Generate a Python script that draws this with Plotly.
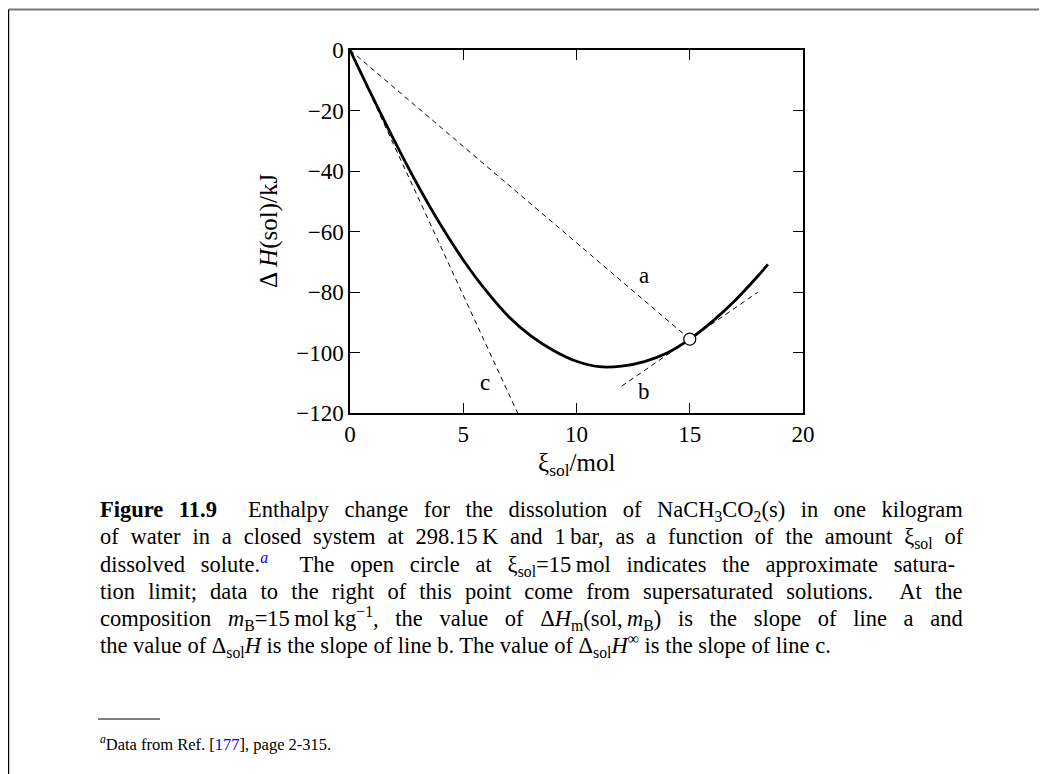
import plotly.graph_objects as go

# curve
xi_sol = [0, 1, 2, 3, 4, 5, 6, 7, 8, 9, 10, 11, 12, 13, 14, 15, 16, 17, 18, 18.45]
dH_sol = [0, -15.6, -30.6, -44.8, -57.8, -69.4, -79.5, -88.1, -94.6, -99.4, -102.9,
          -104.7, -104.5, -103.0, -100.2, -95.6, -89.7, -82.8, -74.8, -70.9]

# saturation point
sat_x = [15]
sat_y = [-95.6]

# tangent / secant lines
line_a_x = [0, 15]
line_a_y = [0, -95.6]
line_b_x = [12, 18]
line_b_y = [-111.1, -80.1]
line_c_x = [0, 7.4]
line_c_y = [0, -120]

# line labels
lab_text = ["a", "b", "c"]
lab_x = [13.0, 13.0, 5.95]
lab_y = [-74.5, -113.0, -110.0]

caption = [
    "<b>Figure 11.9</b>\u00a0\u00a0Enthalpy change for the dissolution of NaCH<sub>3</sub>CO<sub>2</sub>(s) in one kilogram",
    "of water in a closed system at 298.15\u2009K and 1\u2009bar, as a function of the amount \u03be<sub>sol</sub> of",
    "dissolved solute.<sup><span style='color:#0000ff'><i>a</i></span></sup>\u00a0\u00a0The open circle at \u03be<sub>sol</sub>=15\u2009mol indicates the approximate satura-",
    "tion limit; data to the right of this point come from supersaturated solutions.\u00a0\u00a0At the",
    "composition <i>m</i><sub>B</sub>=15\u2009mol\u2009kg<sup>\u22121</sup>, the value of \u0394<i>H</i><sub>m</sub>(sol,\u2009<i>m</i><sub>B</sub>) is the slope of line a and",
    "the value of \u0394<sub>sol</sub><i>H</i> is the slope of line b. The value of \u0394<sub>sol</sub><i>H</i><sup>\u221e</sup> is the slope of line c.",
]
# extra gap between words so the justified lines reach the right margin
cap_wordgap = [9.85, 6.25, 10.15, 7.5, 11.0, 0]
footnote = "<sup><i>a</i></sup>Data from Ref. [<span style='color:#0000ff'>177</span>], page 2-315."

# the page body has an 8px margin, so the figure starts at (8, 8) on screen
OFF = 8
W, H = 1047 - OFF, 774 - OFF
L, R, T, B = 350 - OFF, 803 - OFF, 50 - OFF, 413 - OFF
FONT = "Liberation Serif, Times New Roman, serif"


def px(x):
    # screen pixel -> paper x
    return (x - OFF - L) / (R - L)


def py(y):
    return (B - (y - OFF)) / (B - T)


fig = go.Figure()
dash = "5px,4px"
for lx, ly in [(line_a_x, line_a_y), (line_b_x, line_b_y), (line_c_x, line_c_y)]:
    fig.add_trace(go.Scatter(x=lx, y=ly, mode="lines",
                             line=dict(color="black", width=1, dash=dash),
                             showlegend=False, hoverinfo="skip"))
fig.add_trace(go.Scatter(x=xi_sol, y=dH_sol, mode="lines",
                         line=dict(color="black", width=2.8, shape="spline"),
                         showlegend=False))
fig.add_trace(go.Scatter(x=sat_x, y=sat_y, mode="markers",
                         marker=dict(symbol="circle", size=12, color="white",
                                     line=dict(color="black", width=1.2)),
                         showlegend=False))

for t, x, y in zip(lab_text, lab_x, lab_y):
    fig.add_annotation(x=x, y=y, text=t, showarrow=False,
                       font=dict(family=FONT, size=23, color="black"))

# axis titles
fig.add_annotation(xref="paper", yref="paper", x=px(576), y=py(464),
                   xanchor="center", yanchor="middle",
                   text="\u03be<sub>sol</sub>/mol", showarrow=False,
                   font=dict(family=FONT, size=25, color="black"))
fig.add_annotation(xref="paper", yref="paper", x=px(269), y=py(231),
                   xanchor="center", yanchor="middle",
                   text="\u0394\u2009<i>H</i>(sol)/kJ", showarrow=False, textangle=-90,
                   font=dict(family=FONT, size=25, color="black"))

# caption
cap_y = [511, 538, 564, 591, 618, 645]
for t, y, g in zip(caption, cap_y, cap_wordgap):
    if g:
        t = "<span style='word-spacing:%spx'>%s</span>" % (g, t)
    fig.add_annotation(xref="paper", yref="paper", x=px(98), y=py(y),
                       xanchor="left", yanchor="middle", text=t, showarrow=False,
                       font=dict(family=FONT, size=22.5, color="black"))
fig.add_annotation(xref="paper", yref="paper", x=px(98), y=py(743),
                   xanchor="left", yanchor="middle", text=footnote, showarrow=False,
                   font=dict(family=FONT, size=16.5, color="black"))

# footnote rule and page border
fig.add_shape(type="line", xref="paper", yref="paper",
              x0=px(98), x1=px(160), y0=py(719), y1=py(719),
              line=dict(color="black", width=1))
fig.add_shape(type="line", xref="paper", yref="paper",
              x0=px(OFF + 0.6), x1=px(1047), y0=py(9.5), y1=py(9.5),
              line=dict(color="#777777", width=2))
fig.add_shape(type="line", xref="paper", yref="paper",
              x0=px(OFF + 0.6), x1=px(OFF + 0.6), y0=py(9.5), y1=py(774),
              line=dict(color="black", width=1.2))

axis_common = dict(showgrid=False, zeroline=False, showline=True, mirror="ticks",
                   linecolor="black", linewidth=1.5, ticks="inside", ticklen=10,
                   tickwidth=1.2, tickcolor="black",
                   tickfont=dict(family=FONT, size=23, color="black"))
fig.update_xaxes(range=[0, 20], dtick=5, **axis_common)
fig.update_yaxes(range=[-120, 0], dtick=20, **axis_common)

fig.update_layout(width=W, height=H, plot_bgcolor="white", paper_bgcolor="white",
                  margin=dict(l=L, r=W - R, t=T, b=H - B), showlegend=False)

fig.write_html("out.html")
